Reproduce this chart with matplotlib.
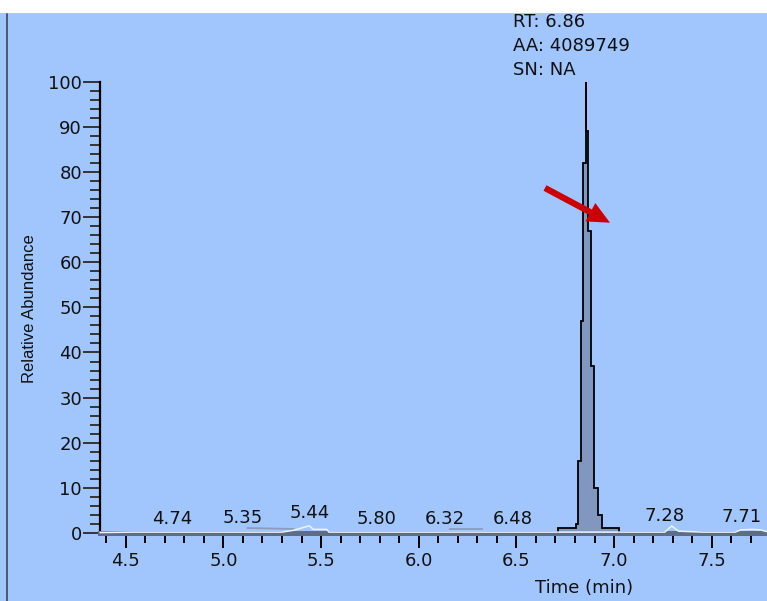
import numpy as np
import matplotlib
matplotlib.use("Agg")
import matplotlib.pyplot as plt
from matplotlib.ticker import MultipleLocator

# chromatogram trace near the baseline (time in min, relative abundance in %)
trace_t = [4.37, 4.55, 4.74, 4.90, 5.10, 5.30, 5.36, 5.44, 5.46, 5.53, 5.54,
           5.80, 6.00, 6.32, 6.48, 6.70, 7.03, 7.20, 7.26, 7.295, 7.33, 7.45,
           7.62, 7.65, 7.71, 7.75, 7.79]
trace_v = [0.1, 0.2, 0.2, 0.2, 0.2, 0.2, 0.6, 1.6, 0.8, 0.8, 0.2,
           0.2, 0.2, 0.2, 0.2, 0.2, 0.2, 0.2, 0.2, 1.55, 0.4, 0.2,
           0.2, 0.7, 0.8, 0.7, 0.2]

# main peak, drawn as scan steps
peak_edges = [6.714, 6.806, 6.818, 6.831, 6.843, 6.854, 6.858, 6.865,
              6.880, 6.899, 6.920, 6.939, 7.026]
peak_heights = [1.2, 2.0, 16, 47, 82, 100, 89, 67, 37, 10, 4, 1.2]

# labelled retention times and the label shift (points) used to keep them apart
label_rt = [4.74, 5.35, 5.44, 5.80, 6.32, 6.48, 7.28, 7.71]
label_dx = [0, -35, 0, -2, -26, 0, -3, -8]

# integration baselines of the two small peaks
base_t = [[5.124, 5.359], [6.16, 6.325]]
base_v = [[1.1, 0.9], [0.8, 0.8]]

peak_rt = "6.86"
peak_area = "4089749"
peak_sn = "NA"

bg = "#a1c6fd"
W, H = 767, 601

fig = plt.figure(figsize=(W / 100, H / 100), dpi=100, facecolor=bg)
ax = fig.add_axes([100 / W, 1 - 533 / H, (W - 100) / W, (533 - 81.7) / H])
ax.set_facecolor(bg)

ax.set_xlim(4.3684, 7.783)
ax.set_ylim(0, 100)

# small peak outlines and baselines
for bt, bv in zip(base_t, base_v):
    ax.plot(bt, bv, color="#8a9cbc", lw=1.3, zorder=2)
ax.plot(trace_t, trace_v, color="#eef3fb", lw=1.1, zorder=3, clip_on=False)

# main peak
ax.stairs(peak_heights, peak_edges, baseline=0, fill=True,
          color="#8197bf", zorder=2.6, clip_on=False)
ax.stairs(peak_heights, peak_edges, baseline=0, color="black",
          lw=1.3, zorder=2.7, clip_on=False)

# retention time labels
for rt, dx in zip(label_rt, label_dx):
    y = np.interp(rt, trace_t, trace_v)
    ax.annotate(f"{rt:.2f}", xy=(rt, y), xytext=(dx, 5.5),
                textcoords="offset points", ha="center", va="baseline",
                fontsize=13, family="DejaVu Sans", color="#111111",
                annotation_clip=False)

# axes styling
for side in ["top", "right"]:
    ax.spines[side].set_visible(False)
ax.spines["left"].set_color("black")
ax.spines["left"].set_linewidth(1.6)
ax.spines["bottom"].set_color("#5d6d88")
ax.spines["bottom"].set_linewidth(3.6)

ax.xaxis.set_major_locator(MultipleLocator(0.5))
ax.xaxis.set_minor_locator(MultipleLocator(0.1))
ax.yaxis.set_major_locator(MultipleLocator(10))
ax.yaxis.set_minor_locator(MultipleLocator(2))
ax.xaxis.set_major_formatter(matplotlib.ticker.FormatStrFormatter("%.1f"))

ax.tick_params(axis="x", which="major", length=11, width=1.4, pad=3,
               labelsize=13, color="black")
ax.tick_params(axis="x", which="minor", length=7, width=1.4, color="black")
ax.tick_params(axis="y", which="major", length=12, width=1.4, pad=1,
               labelsize=13, color="#333333")
ax.tick_params(axis="y", which="minor", length=7, width=1.4, color="#333333")
for lab in ax.get_xticklabels() + ax.get_yticklabels():
    lab.set_family("DejaVu Sans")
    lab.set_color("#111111")

fig.text(584 / W, 1 - 588 / H, "Time (min)", ha="center", va="center",
         fontsize=13, family="DejaVu Sans", color="#111111")
fig.text(29 / W, 1 - 309 / H, "Relative Abundance", rotation=90,
         ha="center", va="center", fontsize=12, family="Liberation Sans",
         color="#111111")

# peak info block
info = [f"RT: {peak_rt}", f"AA: {peak_area}", f"SN: {peak_sn}"]
for i, line in enumerate(info):
    fig.text(513 / W, 1 - (13 + 24 * i) / H, line, ha="left", va="top",
             fontsize=13, family="DejaVu Sans", color="#111111")

# arrow pointing at the peak
ax.annotate("", xy=(610, H - 222.7), xycoords="figure pixels",
            xytext=(545, H - 188), textcoords="figure pixels",
            arrowprops=dict(arrowstyle="simple,head_width=1.5,head_length=1.6,tail_width=0.45",
                            mutation_scale=10, color="#cc0000", lw=0,
                            shrinkA=0, shrinkB=0))

# window frame: white strip on top, dark border on the left
fig.patches.append(plt.Rectangle((0, 1 - 11.5 / H), 1, 11.5 / H,
                                 transform=fig.transFigure, color="white",
                                 zorder=5))
fig.add_artist(plt.Line2D([0, 1], [1 - 11.5 / H] * 2, color="#8d97a8",
                          lw=1, transform=fig.transFigure))
fig.add_artist(plt.Line2D([6.5 / W] * 2, [0, 1 - 11.5 / H], color="#3c4454",
                          lw=1.2, transform=fig.transFigure))

fig.savefig("out.png", dpi=100, facecolor=bg)
